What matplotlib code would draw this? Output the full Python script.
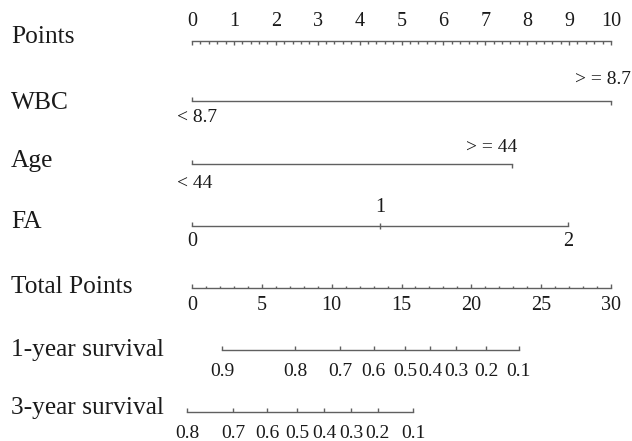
import matplotlib
matplotlib.use("Agg")
import matplotlib.pyplot as plt
import numpy as np

# ---- data ----
row_labels = ["Points", "WBC", "Age", "FA", "Total Points", "1-year survival", "3-year survival"]
points_ticks = list(range(0, 11))
wbc_levels = ["< 8.7", "> = 8.7"]
wbc_points = [0, 10]
age_levels = ["< 44", "> = 44"]
age_points = [0, 7.64]
fa_levels = ["0", "1", "2"]
fa_points = [0, 4.49, 8.97]
total_ticks = list(range(0, 31, 5))
surv1_labels = ["0.9", "0.8", "0.7", "0.6", "0.5", "0.4", "0.3", "0.2", "0.1"]
surv1_total = [2.15, 7.38, 10.6, 13.0, 15.25, 17.04, 18.9, 21.05, 23.4]
surv3_labels = ["0.8", "0.7", "0.6", "0.5", "0.4", "0.3", "0.2", "0.1"]
surv3_total = [-0.36, 2.94, 5.37, 7.52, 9.45, 11.38, 13.3, 15.82]
total_max = 30
points_max = 10

W, H = 632, 441
fig = plt.figure(figsize=(W / 100, H / 100), dpi=100)
ax = fig.add_axes([0, 0, 1, 1])
x0px, x10px = 192, 611
ppu = (x10px - x0px) / points_max
ax.set_xlim(-x0px / ppu, (W - x0px) / ppu)
ax.set_ylim(H, 0)
ax.axis("off")

font = "Liberation Serif"
lc = "#606060"
tc = "#1a1a1a"
lw = 1.0

def vt(x, y, length):
    ax.plot([x, x], [y, y + length], color=lc, lw=lw, solid_capstyle="butt")

def tot2pts(t):
    return np.asarray(t, dtype=float) * points_max / total_max

# Row labels
label_y = [37, 103, 161, 222, 287, 350, 408]
for lab, y in zip(row_labels, label_y):
    ax.text(-181 / ppu, y, lab, fontsize=18.3, family=font, color=tc, va="center", ha="left")

pfs = 14.5
sfs = 14
lfs = 14

# Points axis
y = 41
ax.plot([0, points_max], [y, y], color=lc, lw=lw)
for v in np.arange(0, points_max + 0.001, 0.2):
    major = abs(v - round(v)) < 1e-6
    vt(v, y, 4 if major else 2.5)
for v in points_ticks:
    ax.text(v, 21, str(v), fontsize=pfs, family=font, color=tc, ha="center", va="center")

# WBC
y = 101
ax.plot(wbc_points, [y, y], color=lc, lw=lw)
vt(wbc_points[0], y, -4)
vt(wbc_points[1], y, 4)
ax.text(wbc_points[0] - 0.35, 117, wbc_levels[0], fontsize=lfs, family=font, color=tc, ha="left", va="center")
ax.text(wbc_points[1] + 0.48, 79, wbc_levels[1], fontsize=lfs, family=font, color=tc, ha="right", va="center")

# Age
y = 164
ax.plot(age_points, [y, y], color=lc, lw=lw)
vt(age_points[0], y, -4)
vt(age_points[1], y, 4)
ax.text(age_points[0] - 0.35, 183, age_levels[0], fontsize=lfs, family=font, color=tc, ha="left", va="center")
ax.text(age_points[1] - 0.5, 147, age_levels[1], fontsize=lfs, family=font, color=tc, ha="center", va="center")

# FA
y = 226
ax.plot([fa_points[0], fa_points[-1]], [y, y], color=lc, lw=lw)
vt(fa_points[0], y, -4)
vt(fa_points[1], y, -3)
vt(fa_points[1], y, 3)
vt(fa_points[2], y, -4)
ax.text(fa_points[0], 242, fa_levels[0], fontsize=pfs, family=font, color=tc, ha="center", va="center")
ax.text(fa_points[1], 208, fa_levels[1], fontsize=pfs, family=font, color=tc, ha="center", va="center")
ax.text(fa_points[2], 242, fa_levels[2], fontsize=pfs, family=font, color=tc, ha="center", va="center")

# Total points
y = 288
ax.plot([0, points_max], [y, y], color=lc, lw=lw)
for v in range(0, total_max + 1):
    vt(tot2pts(v), y, -4 if v % 5 == 0 else -2.5)
for v in total_ticks:
    ax.text(tot2pts(v), 305, str(v), fontsize=pfs, family=font, color=tc, ha="center", va="center")

# 1-year survival
y = 350
xs = tot2pts(surv1_total)
ax.plot([xs[0], xs[-1]], [y, y], color=lc, lw=lw)
for x, lab in zip(xs, surv1_labels):
    vt(x, y, -4)
    ax.text(x, 372, lab, fontsize=sfs, family=font, color=tc, ha="center", va="center")

# 3-year survival
y = 412
xs = tot2pts(surv3_total)
ax.plot([xs[0], xs[-1]], [y, y], color=lc, lw=lw)
for x, lab in zip(xs, surv3_labels):
    vt(x, y, -4)
    ax.text(x, 433, lab, fontsize=sfs, family=font, color=tc, ha="center", va="center")

fig.savefig("out.png", dpi=100)
